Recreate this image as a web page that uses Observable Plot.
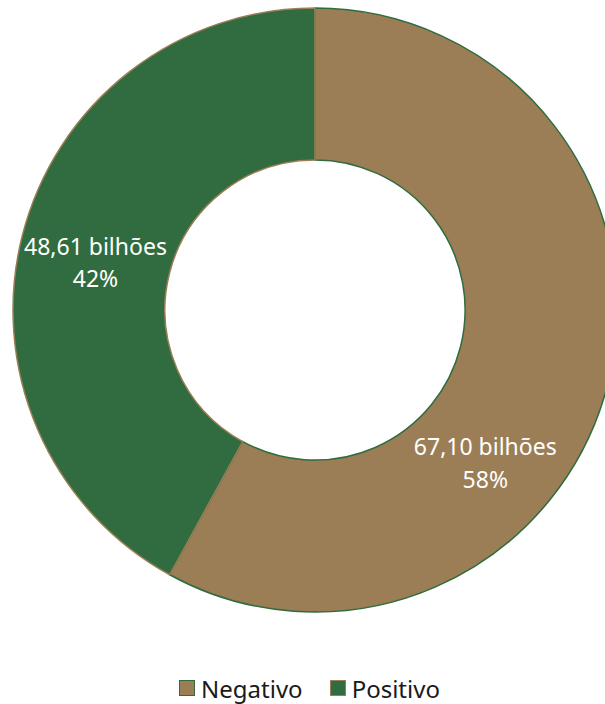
<!DOCTYPE html>
<html>
<head>
<meta charset="utf-8">
<script src="https://cdn.jsdelivr.net/npm/d3@7"></script>
<script src="https://cdn.jsdelivr.net/npm/@observablehq/plot@0.6"></script>
<style>
  body { margin: 0; background: #fff; font-family: "Noto Sans", sans-serif; }
  #chart { width: 605px; }
  .legend { display: flex; justify-content: center; align-items: center; height: 36px; font-size: 24px; color: #1a1a1a; gap: 27px; padding-left: 14px; }
  .legend .item { display: flex; align-items: center; gap: 6px; }
  .legend .sw { width: 14px; height: 14px; border: 1.5px solid; display: inline-block; }
</style>
</head>
<body>
<div id="chart"></div>
<script>
const categories = ["Negativo", "Positivo"];
const values = [67.10, 48.61];
const colors = ["#9b7e56", "#306c3f"];
const strokes = ["#306c3f", "#9b7e56"];

const total = d3.sum(values);
const data = categories.map((c, i) => ({category: c, value: values[i], color: colors[i], stroke: strokes[i]}));
const pie = d3.pie().value(d => d.value).sort(null)(data);

const innerFrac = 0.497;
const labelRadius = (1 + innerFrac) / 2;
// Excel "best fit" label placement nudges the first label lower along the ring
const labelAngleShift = [0.47, -0.02];
const fmt = v => v.toFixed(2).replace(".", ",");
const labels = pie.map((p, i) => {
  const a = (p.startAngle + p.endAngle) / 2 + labelAngleShift[i];
  return {
    x: labelRadius * Math.sin(a),
    y: labelRadius * Math.cos(a),
    text: `${fmt(p.data.value)} bilhões\n${Math.round(p.data.value / total * 100)}%`
  };
});

function donut(index, scales) {
  const cx = scales.x(0), cy = scales.y(0);
  const R = scales.x(1) - scales.x(0);
  const arc = d3.arc().innerRadius(R * innerFrac).outerRadius(R);
  const g = d3.create("svg:g").attr("transform", `translate(${cx},${cy})`);
  g.selectAll("path").data(pie).join("path")
    .attr("d", arc)
    .attr("fill", d => d.data.color)
    .attr("stroke", d => d.data.stroke)
    .attr("stroke-width", 1.5);
  return g.node();
}

const plot = Plot.plot({
  width: 605,
  height: 670,
  margin: 0,
  x: {domain: [-1, 1], range: [13, 617], axis: null},
  y: {domain: [-1, 1], range: [611, 9], axis: null},
  marks: [
    donut,
    Plot.text(labels, {
      x: "x", y: "y", text: "text",
      fill: "white", fontSize: 23, lineHeight: 1.4,
      fontFamily: "Noto Sans", textAnchor: "middle", dy: 2
    })
  ]
});
document.getElementById("chart").appendChild(plot);

const legend = d3.select("#chart").append("div").attr("class", "legend");
const items = legend.selectAll(".item").data(data).join("div").attr("class", "item");
items.append("span").attr("class", "sw").style("background", d => d.color).style("border-color", d => d.stroke);
items.append("span").text(d => d.category);
</script>
</body>
</html>
